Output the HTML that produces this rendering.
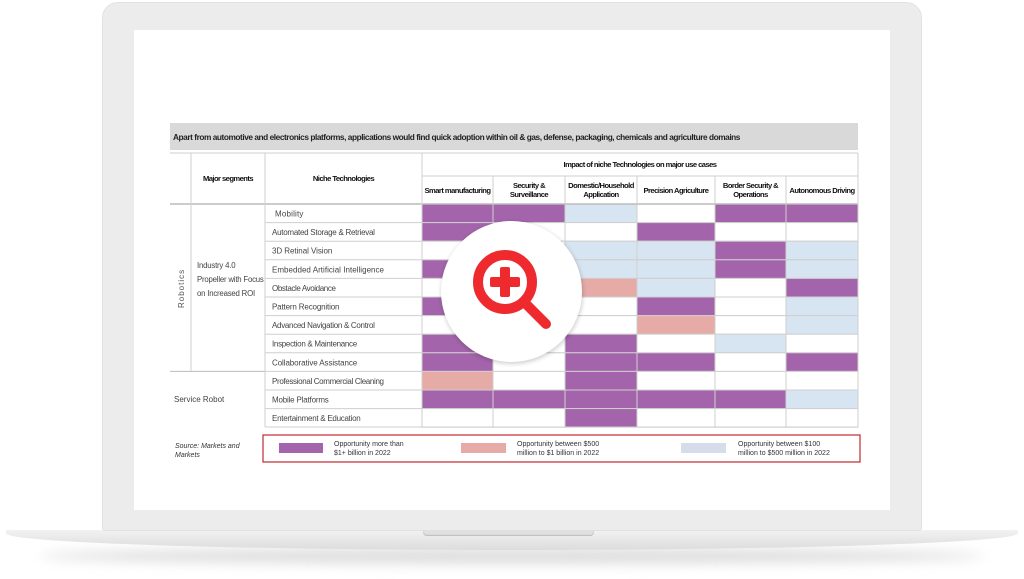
<!DOCTYPE html>
<html><head><meta charset="utf-8"><style>
*{margin:0;padding:0;box-sizing:border-box}
body{width:1024px;height:579px;background:#fff;position:relative;overflow:hidden;font-family:"Liberation Sans",sans-serif}
.abs{position:absolute}
.t{position:absolute;font-size:8px;color:#333;white-space:nowrap}
.h{position:absolute;font-size:7.6px;color:#111;font-weight:bold;text-align:center;letter-spacing:-0.55px;line-height:9px;display:flex;align-items:center;justify-content:center;white-space:nowrap}
</style></head><body>
<div class="abs" style="left:40px;top:548px;width:944px;height:16px;border-radius:50%;background:#ddd;filter:blur(6px)"></div>
<div class="abs" style="left:6px;top:530px;width:1012px;height:20px;background:linear-gradient(#f2f2f2,#dcdcdc);border-radius:0 0 60% 60%/0 0 100% 100%"></div>
<div class="abs" style="left:102px;top:2px;width:820px;height:529px;background:#ececec;border-radius:16px 16px 3px 3px;border:1px solid #e2e2e2"></div>
<div class="abs" style="left:423px;top:530px;width:171px;height:6px;background:#e0e0e0;border-radius:0 0 4px 4px;box-shadow:inset 0 -1px 1px #bbb"></div>
<div class="abs" style="left:134px;top:30px;width:756px;height:480px;background:#fff"></div>
<div class="abs" style="left:170px;top:123px;width:688px;height:27px;background:#d9d9d9"></div>
<div class="t" style="left:173px;top:132px;font-size:8.3px;color:#222;letter-spacing:-0.45px;font-weight:bold">Apart from automotive and electronics platforms, applications would find quick adoption within oil &amp; gas, defense, packaging, chemicals and agriculture domains</div>
<svg class="abs" style="left:0;top:0" width="1024" height="579">
<g id="cells"></g>
</svg>
<script>
const P='#a364ab',K='#e6aaa7',B='#d7e4f1',W='#fff';
const cx=[422,493,565,637,715,786,858];
const rows=[
['Mobility',[P,P,B,W,P,P]],
['Automated Storage & Retrieval',[P,W,W,P,W,W]],
['3D Retinal Vision',[W,W,B,B,P,B]],
['Embedded Artificial Intelligence',[P,W,B,B,P,B]],
['Obstacle Avoidance',[W,W,K,B,W,P]],
['Pattern Recognition',[P,W,W,P,W,B]],
['Advanced Navigation & Control',[W,W,W,K,W,B]],
['Inspection & Maintenance',[P,W,P,W,B,W]],
['Collaborative Assistance',[P,W,P,P,W,P]],
['Professional Commercial Cleaning',[K,W,P,W,W,W]],
['Mobile Platforms',[P,P,P,P,P,B]],
['Entertainment & Education',[W,W,P,W,W,W]]];
let s='';const y0=204,rh=18.6;const L='#cfcfcf';
rows.forEach((r,i)=>{const y=y0+i*rh;
 r[1].forEach((c,j)=>{s+=`<rect x="${cx[j]}" y="${y}" width="${cx[j+1]-cx[j]}" height="${rh}" fill="${c}" stroke="${L}" stroke-width="1"/>`});
 s+=`<line x1="265" x2="422" y1="${y}" y2="${y}" stroke="${L}"/>`;
 s+=`<text x="${i==0?275:272}" y="${y+12.5}" font-size="8" fill="#444" font-family="Liberation Sans" textLength="${Math.min(r[0].length*3.55,112)}">${r[0].replace('&','&amp;')}</text>`;
});
s+=`<line x1="170" x2="858" y1="153" y2="153" stroke="${L}"/>`;
s+=`<line x1="422" x2="858" y1="176" y2="176" stroke="${L}"/>`;
s+=`<line x1="170" x2="858" y1="204" y2="204" stroke="#bbb" stroke-width="1.5"/>`;
s+=`<line x1="170" x2="265" y1="371.4" y2="371.4" stroke="#bbb"/>`;
s+=`<line x1="265" x2="858" y1="427" y2="427" stroke="${L}"/>`;
[191,265,422,858].forEach(x=>s+=`<line x1="${x}" x2="${x}" y1="153" y2="${x==191?371:427}" stroke="${L}"/>`);
[493,565,637,715,786].forEach(x=>s+=`<line x1="${x}" x2="${x}" y1="176" y2="204" stroke="${L}"/>`);
s+=`<text x="0" y="0" font-size="8" fill="#555" font-family="Liberation Sans" letter-spacing="1" transform="translate(184,308) rotate(-90)">Robotics</text>`;
s+=`<defs><filter id="f"><feGaussianBlur stdDeviation="2"/></filter></defs>`;
s+=`<circle cx="512" cy="293" r="71" fill="#000" opacity="0.18" filter="url(#f)"/>`;
s+=`<circle cx="511.5" cy="291.5" r="70.5" fill="#fff"/>`;
s+=`<circle cx="505" cy="282" r="27" fill="none" stroke="#ee2a2e" stroke-width="10"/>`;
s+=`<line x1="527" y1="305" x2="546" y2="324" stroke="#ee2a2e" stroke-width="10" stroke-linecap="round"/>`;
s+=`<rect x="490" y="277" width="30" height="10" rx="2" fill="#ee2a2e"/><rect x="500" y="267" width="10" height="30" rx="2" fill="#ee2a2e"/>`;
s+=`<rect x="263" y="435" width="597" height="27" fill="none" stroke="#c0282d" stroke-width="1.2"/>`;
s+=`<rect x="279" y="443" width="44" height="10" fill="${P}"/><rect x="461" y="443" width="45" height="10" fill="${K}"/><rect x="681" y="443" width="45" height="10" fill="#d4dde9"/>`;
document.getElementById('cells').innerHTML=s;
</script>
<div class="h" style="left:191px;top:153px;width:74px;height:51px">Major segments</div>
<div class="h" style="left:265px;top:153px;width:157px;height:51px">Niche Technologies</div>
<div class="h" style="left:422px;top:153px;width:436px;height:23px">Impact of niche Technologies on major use cases</div>
<div class="h" style="left:422px;top:176px;width:71px;height:28px">Smart manufacturing</div>
<div class="h" style="left:493px;top:176px;width:72px;height:28px">Security &amp;<br>Surveillance</div>
<div class="h" style="left:565px;top:176px;width:72px;height:28px">Domestic/Household<br>Application</div>
<div class="h" style="left:637px;top:176px;width:78px;height:28px">Precision Agriculture</div>
<div class="h" style="left:715px;top:176px;width:71px;height:28px">Border Security &amp;<br>Operations</div>
<div class="h" style="left:786px;top:176px;width:72px;height:28px">Autonomous Driving</div>
<div class="t" style="left:197px;top:259px;line-height:14px;color:#444;font-size:7.8px;letter-spacing:-0.2px">Industry 4.0<br>Propeller with Focus<br>on Increased ROI</div>
<div class="t" style="left:174px;top:395px;color:#444">Service Robot</div>
<div class="t" style="left:175px;top:442px;font-size:7px;line-height:9px;font-style:italic;color:#333">Source: Markets and<br>Markets</div>
<div class="t" style="left:334px;top:440px;font-size:7px;line-height:9px">Opportunity more than<br>$1+ billion in 2022</div>
<div class="t" style="left:517px;top:440px;font-size:7px;line-height:9px">Opportunity between $500<br>million to $1 billion in 2022</div>
<div class="t" style="left:738px;top:440px;font-size:7px;line-height:9px">Opportunity between $100<br>million to $500 million in 2022</div>
</body></html>
